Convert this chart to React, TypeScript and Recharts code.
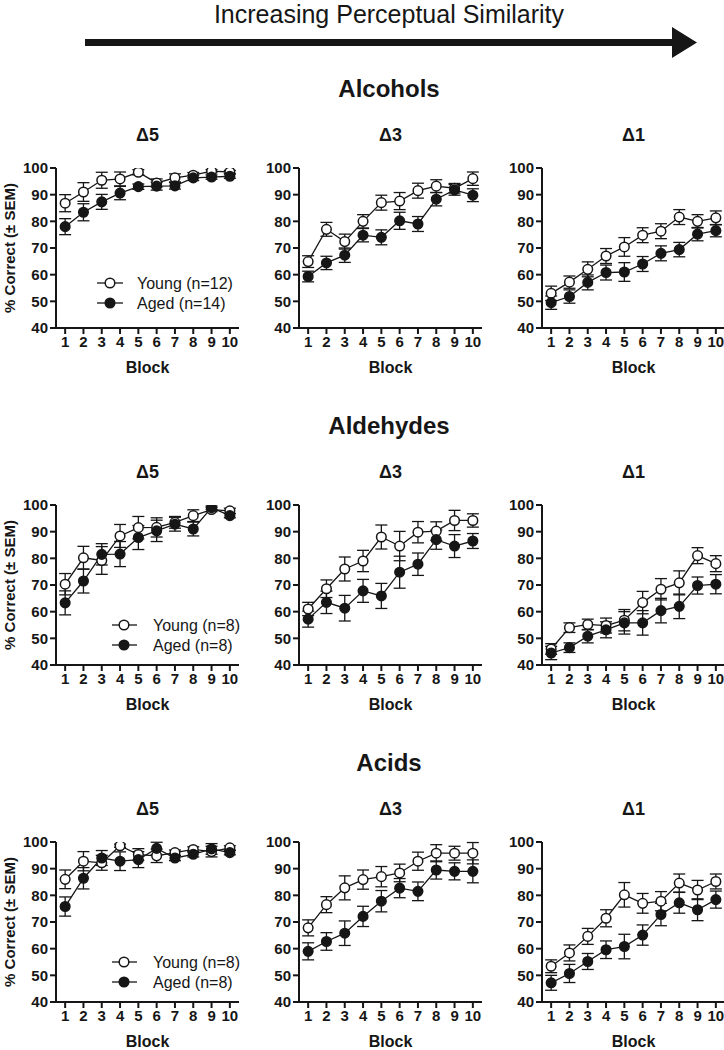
import React from 'react';
import { LineChart, Line, XAxis, YAxis, ErrorBar } from 'recharts';

const FONT = '"Liberation Sans", Arial, Helvetica, sans-serif';
const INK = '#161616';

const blocks = [1, 2, 3, 4, 5, 6, 7, 8, 9, 10];
const yTicks = [40, 50, 60, 70, 80, 90, 100];

// Alcohols
const alcD5Young = [86.8, 91, 95.4, 95.9, 98.4, 94.4, 96.3, 97.3, 98.8, 98.5];
const alcD5YoungSem = [3.2, 3.5, 3, 2.6, 1, 1.5, 1.5, 1, 0.6, 0.6];
const alcD5Aged = [78, 83.4, 87.3, 90.6, 93, 93.2, 93.3, 96.3, 96.6, 96.9];
const alcD5AgedSem = [3, 3.2, 2.8, 2.5, 1, 1.5, 1.2, 1, 0.8, 0.8];

const alcD3Young = [64.9, 77, 72.4, 80, 87, 87.6, 91.5, 93.2, 92.4, 96];
const alcD3YoungSem = [2.2, 2.6, 2.8, 2.5, 2.8, 3.2, 2.8, 2.4, 1.8, 2.5];
const alcD3Aged = [59.3, 64.4, 67.3, 74.8, 74, 80.2, 79, 88.3, 91.8, 89.8];
const alcD3AgedSem = [2, 2.5, 2.7, 2.5, 2.8, 3.2, 2.8, 2.5, 2, 2.4];

const alcD1Young = [53, 57.2, 62, 67, 70.4, 74.8, 76.3, 81.6, 80, 81.3];
const alcD1YoungSem = [2.7, 2.3, 2.8, 2.8, 3.5, 2.8, 2.8, 2.8, 2.5, 2.6];
const alcD1Aged = [49.5, 51.8, 57.1, 60.8, 61, 64, 68, 69.4, 75.2, 76.5];
const alcD1AgedSem = [2.5, 2.5, 2.8, 2.8, 3.5, 2.8, 2.8, 2.7, 2.5, 2.3];

// Aldehydes
const aldD5Young = [70.3, 80.2, 79.2, 88.4, 91.5, 91.6, 93.5, 96, 98.3, 97.8];
const aldD5YoungSem = [4, 4.3, 5.2, 4.3, 4.2, 3.6, 2.2, 2.2, 0.8, 1];
const aldD5Aged = [63.3, 71.5, 81.5, 81.6, 87.8, 90.3, 92.8, 91, 99, 96];
const aldD5AgedSem = [4.5, 4.5, 4, 4.7, 4.5, 4, 2.6, 2.6, 0.6, 0.8];

const aldD3Young = [61, 68.6, 76, 79, 88, 84.6, 89.8, 90.2, 94.2, 94.2];
const aldD3YoungSem = [2.5, 3.3, 4.5, 4, 4.5, 5.5, 4, 3.5, 3.8, 2.5];
const aldD3Aged = [57.2, 63.5, 61.3, 67.8, 65.9, 74.8, 77.8, 87, 84.6, 86.5];
const aldD3AgedSem = [3, 4.2, 4.8, 4.3, 4.7, 6, 4.2, 3.6, 4.3, 2.8];

const aldD1Young = [46, 54, 55.2, 54.8, 56.8, 63.4, 68.4, 70.8, 81, 78];
const aldD1YoungSem = [2, 1.8, 2, 2.8, 4, 4.2, 4, 4.5, 3, 3];
const aldD1Aged = [44.5, 46.5, 50.8, 53.2, 55.8, 55.8, 60.4, 62, 69.8, 70.3];
const aldD1AgedSem = [2.5, 1.8, 2.5, 3, 4.2, 4.6, 4.6, 4.6, 3.2, 3.6];

// Acids
const acdD5Young = [86, 92.8, 92.2, 98.6, 95.3, 94.8, 96, 97.2, 96.4, 97.8];
const acdD5YoungSem = [3.5, 3.6, 2.8, 0.6, 2.2, 2.5, 1, 1, 2, 0.8];
const acdD5Aged = [75.8, 86.4, 94, 92.8, 93.4, 97.6, 94, 95.4, 97.4, 96];
const acdD5AgedSem = [3.6, 4, 2.8, 3.5, 3, 2.3, 1, 1, 2, 0.8];

const acdD3Young = [67.8, 76.5, 82.8, 85.9, 87, 88.4, 92.8, 95.8, 95.8, 95.8];
const acdD3YoungSem = [3, 3, 4.5, 3.6, 3.8, 3.3, 3.4, 3.2, 2.6, 4];
const acdD3Aged = [59, 62.7, 65.8, 72.1, 77.8, 82.7, 81.5, 89.5, 89, 89];
const acdD3AgedSem = [3.2, 3.3, 4.6, 3.8, 4, 3.6, 3.5, 3.4, 3.2, 4.3];

const acdD1Young = [53.4, 58.4, 64.6, 71.4, 80.2, 77, 77.8, 84.6, 82, 85.2];
const acdD1YoungSem = [2.4, 3, 3, 3.2, 4.6, 3.7, 3.6, 3.4, 3.6, 2.8];
const acdD1Aged = [47.2, 50.7, 55.2, 59.6, 60.8, 65.1, 72.8, 77.2, 74.6, 78.4];
const acdD1AgedSem = [2.8, 3.4, 3, 3.3, 4.6, 3.8, 4.2, 3.9, 4.1, 3.2];

const groupTitles = ['Alcohols', 'Aldehydes', 'Acids'];
const panelTitles = ['\u03945', '\u03943', '\u03941'];
const legendLabels = [
  ['Young (n=12)', 'Aged (n=14)'],
  ['Young (n=8)', 'Aged (n=8)'],
  ['Young (n=8)', 'Aged (n=8)'],
];

const build = (y: number[], ys: number[], a: number[], as: number[]) =>
  blocks.map((b, i) => ({ block: b, young: y[i], youngErr: ys[i], aged: a[i], agedErr: as[i] }));

const panels = [
  [
    build(alcD5Young, alcD5YoungSem, alcD5Aged, alcD5AgedSem),
    build(alcD3Young, alcD3YoungSem, alcD3Aged, alcD3AgedSem),
    build(alcD1Young, alcD1YoungSem, alcD1Aged, alcD1AgedSem),
  ],
  [
    build(aldD5Young, aldD5YoungSem, aldD5Aged, aldD5AgedSem),
    build(aldD3Young, aldD3YoungSem, aldD3Aged, aldD3AgedSem),
    build(aldD1Young, aldD1YoungSem, aldD1Aged, aldD1AgedSem),
  ],
  [
    build(acdD5Young, acdD5YoungSem, acdD5Aged, acdD5AgedSem),
    build(acdD3Young, acdD3YoungSem, acdD3Aged, acdD3AgedSem),
    build(acdD1Young, acdD1YoungSem, acdD1Aged, acdD1AgedSem),
  ],
];

// layout
const COL_X = [56, 299, 542];
const ROW_Y = [168, 505, 842];
const PLOT_W = 183;
const PLOT_H = 160;
const Y_AXIS_W = 42;
const M_TOP = 10;
const X_AXIS_H = 54;

const tickStyle = { fontSize: 15, fontWeight: 700, fill: INK, fontFamily: FONT };

function Panel({ data, left, top }: { data: any[]; left: number; top: number }) {
  return (
    <div style={{ position: 'absolute', left: left - Y_AXIS_W, top: top - M_TOP }}>
      <LineChart
        width={Y_AXIS_W + PLOT_W + 4}
        height={M_TOP + PLOT_H + X_AXIS_H}
        data={data}
        margin={{ top: M_TOP, right: 4, bottom: 0, left: 0 }}
      >
        <XAxis
          type="number"
          dataKey="block"
          domain={[0.5, 10.5]}
          ticks={blocks}
          interval={0}
          height={X_AXIS_H}
          tick={tickStyle}
          tickSize={6}
          tickMargin={2}
          axisLine={{ stroke: INK, strokeWidth: 2 }}
          tickLine={{ stroke: INK, strokeWidth: 2 }}
          label={{
            value: 'Block',
            position: 'insideBottom',
            offset: 9,
            style: { fontSize: 16, fontWeight: 700, fill: INK, fontFamily: FONT },
          }}
        />
        <YAxis
          type="number"
          domain={[40, 100]}
          ticks={yTicks}
          interval={0}
          allowDataOverflow
          width={Y_AXIS_W}
          tick={tickStyle}
          tickSize={6}
          tickMargin={2}
          axisLine={{ stroke: INK, strokeWidth: 2 }}
          tickLine={{ stroke: INK, strokeWidth: 2 }}
        />
        <Line
          dataKey="young"
          stroke={INK}
          strokeWidth={1.3}
          dot={{ r: 4.8, fill: '#fff', stroke: INK, strokeWidth: 1.5 }}
          activeDot={false}
          isAnimationActive={false}
        >
          <ErrorBar dataKey="youngErr" direction="y" width={6} stroke={INK} strokeWidth={1.3} />
        </Line>
        <Line
          dataKey="aged"
          stroke={INK}
          strokeWidth={1.3}
          dot={{ r: 4.8, fill: INK, stroke: INK, strokeWidth: 1.5 }}
          activeDot={false}
          isAnimationActive={false}
        >
          <ErrorBar dataKey="agedErr" direction="y" width={6} stroke={INK} strokeWidth={1.3} />
        </Line>
      </LineChart>
    </div>
  );
}

const ROW_SHIFT = 337;

export default function App() {
  const legendPos = [
    { lx1: 97, lx2: 123, cx: 110, tx: 137, y1: 283 },
    { lx1: 112, lx2: 137, cx: 124, tx: 153, y1: 625 },
    { lx1: 112, lx2: 137, cx: 124, tx: 153, y1: 962 },
  ];
  return (
    <div style={{ position: 'absolute', left: 0, top: 0, width: 724, height: 1050, background: '#fff', overflow: 'hidden' }}>
      {panels.map((row, r) =>
        row.map((data, c) => <Panel key={`${r}-${c}`} data={data} left={COL_X[c]} top={ROW_Y[r]} />)
      )}
      <svg
        width={724}
        height={1050}
        style={{ position: 'absolute', left: 0, top: 0, pointerEvents: 'none' }}
        fontFamily={FONT}
      >
        <text x={389} y={23} textAnchor="middle" fontSize={25} fill={INK}>
          Increasing Perceptual Similarity
        </text>
        <line x1={85} y1={42.5} x2={676} y2={42.5} stroke={INK} strokeWidth={7} />
        <polygon points="672,27 697,42.5 672,58" fill={INK} />
        {groupTitles.map((g, r) => (
          <text key={g} x={389} y={97 + r * ROW_SHIFT} textAnchor="middle" fontSize={24} fontWeight={700} fill={INK}>
            {g}
          </text>
        ))}
        {groupTitles.map((g, r) =>
          panelTitles.map((t, c) => (
            <text
              key={`${g}-${t}`}
              x={COL_X[c] + PLOT_W / 2}
              y={141 + r * ROW_SHIFT}
              textAnchor="middle"
              fontSize={18}
              fontWeight={700}
              fill={INK}
            >
              {t}
            </text>
          ))
        )}
        {ROW_Y.map((y0, r) => (
          <text
            key={`yl-${r}`}
            transform={`translate(15, ${y0 + PLOT_H / 2}) rotate(-90)`}
            textAnchor="middle"
            fontSize={15}
            fontWeight={700}
            fill={INK}
          >
            % Correct (± SEM)
          </text>
        ))}
        {legendPos.map((p, r) => (
          <g key={`lg-${r}`}>
            <line x1={p.lx1} x2={p.lx2} y1={p.y1} y2={p.y1} stroke={INK} strokeWidth={1.3} />
            <circle cx={p.cx} cy={p.y1} r={4.8} fill="#fff" stroke={INK} strokeWidth={1.5} />
            <text x={p.tx} y={p.y1 + 5.5} fontSize={16} fill={INK}>
              {legendLabels[r][0]}
            </text>
            <line x1={p.lx1} x2={p.lx2} y1={p.y1 + 20} y2={p.y1 + 20} stroke={INK} strokeWidth={1.3} />
            <circle cx={p.cx} cy={p.y1 + 20} r={4.8} fill={INK} stroke={INK} strokeWidth={1.5} />
            <text x={p.tx} y={p.y1 + 25.5} fontSize={16} fill={INK}>
              {legendLabels[r][1]}
            </text>
          </g>
        ))}
      </svg>
    </div>
  );
}
